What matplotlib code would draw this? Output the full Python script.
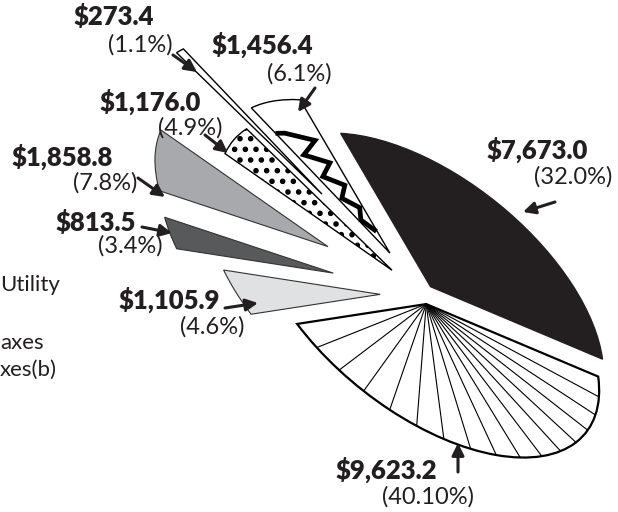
"""Exploded, tilted pie of spending shares with value/percent call-outs."""

import numpy as np
import matplotlib

matplotlib.use("Agg")
import matplotlib.pyplot as plt
from matplotlib.transforms import Affine2D

W, H = 618, 512
DPI = 64          # low dpi so the dot hatch comes out as dense as the print
S = 100 / DPI     # sizes below were tuned in "points at 100 dpi"

plt.rcParams["font.family"] = ["Lato", "DejaVu Sans"]
plt.rcParams["hatch.linewidth"] = 3.8
plt.rcParams["hatch.color"] = "black"

# slices, counter-clockwise starting from the big black one
values = ["$7,673.0", "$1,456.4", "$273.4", "$1,176.0",
          "$1,858.8", "$813.5", "$1,105.9", "$9,623.2"]
shares = [32.0, 6.1, 1.1, 4.9, 7.8, 3.4, 4.6, 40.1]
pct_labels = ["(32.0%)", "(6.1%)", "(1.1%)", "(4.9%)",
              "(7.8%)", "(3.4%)", "(4.6%)", "(40.10%)"]

colors = ["#231f20", "white", "white", "white",
          "#a7a9ac", "#58595b", "#e0e1e2", "white"]
explode = [0.111, 0.276, 0.704, 0.19, 0.544, 0.543, 0.29, 0.06]

# label anchors (pixels, y down) and arrow tail -> head
value_pos = [(537, 150), (262, 45), (114, 17), (150, 102),
             (62, 157), (96, 222), (169, 300), (386, 470)]
pct_pos = [(573, 177), (299, 74), (140, 45), (190, 128),
           (105, 183), (130, 246), (212, 327), (428, 497)]
arrow_tail = [(555, 202), (315, 88), (173, 55), (205, 135),
              (138, 178), (142, 227), (225, 308), (458, 472)]
arrow_head = [(523, 212), (298, 112), (197, 72), (228, 153),
              (165, 197), (172, 233), (258, 303), (458, 443)]

# remnants of a legend that falls off the left edge
legend_text = ["Utility", "axes", "xes(b)"]
legend_pos = [(0, 285), (0, 343), (0, 370)]

# tilt of the pie: semi axes (px) and rotation of the long axis
A_MAJOR, B_MINOR, TILT = 205, 107, 141
CENTER = (422, 295)

fig = plt.figure(figsize=(W / DPI, H / DPI), dpi=DPI)
ax = fig.add_axes([0, 0, 1, 1])

wedges, _ = ax.pie(shares, explode=explode, colors=colors, startangle=-151,
                   counterclock=True, radius=1.0,
                   wedgeprops=dict(edgecolor="black", linewidth=1.0 * S))

tilt = (Affine2D().scale(A_MAJOR, -B_MINOR).rotate_deg(-TILT)
        .translate(*CENTER) + ax.transData)

for w, c in zip(wedges, colors):
    w.set_transform(tilt)
    if c == "#231f20":
        w.set_edgecolor(c)
    elif c != "white":
        w.set_linewidth(0.8 * S)
        w.set_edgecolor("#333333")

wedges[3].set_hatch(".")
wedges[7].set_linewidth(1.6 * S)

# fan of radial rules inside the largest slice
big = wedges[7]
bx, by = big.center
for ang in np.linspace(big.theta1, big.theta2, 17)[1:-1]:
    t = np.deg2rad(ang)
    ax.plot([bx, bx + big.r * np.cos(t)], [by, by + big.r * np.sin(t)],
            color="black", lw=0.8 * S, transform=tilt)

# zig-zag rule through the 6.1% slice
zz = wedges[1]
zx, zy = zz.center
span = zz.theta2 - zz.theta1
rr = np.linspace(0.15, 0.88, 11)
aa = np.where(np.arange(len(rr)) % 2 == 0, zz.theta1 + 0.22 * span,
              zz.theta1 + 0.8 * span)
aa[-1] = zz.theta1 + 0.95 * span
rr[-1] = 0.82
ax.plot(zx + rr * np.cos(np.deg2rad(aa)), zy + rr * np.sin(np.deg2rad(aa)),
        color="black", lw=3.4 * S, solid_joinstyle="miter", transform=tilt)

for i in range(len(shares)):
    ax.text(*value_pos[i], values[i], ha="center", va="center",
            fontsize=18.5 * S, fontweight="heavy", color="#231f20",
            parse_math=False)
    ax.text(*pct_pos[i], pct_labels[i], ha="center", va="center",
            fontsize=17 * S, fontweight="normal", color="#231f20")
    ax.annotate("", xy=arrow_head[i], xytext=arrow_tail[i],
                arrowprops=dict(arrowstyle="-|>", color="#231f20",
                                lw=2.2 * S, mutation_scale=18 * S,
                                shrinkA=0, shrinkB=0))

for txt, pos in zip(legend_text, legend_pos):
    ax.text(*pos, txt, ha="left", va="center", fontsize=16 * S,
            fontweight="normal", color="#231f20")

ax.set_xlim(0, W)
ax.set_ylim(H, 0)
ax.set_aspect("auto")
ax.axis("off")

fig.savefig("out.png", dpi=DPI)
